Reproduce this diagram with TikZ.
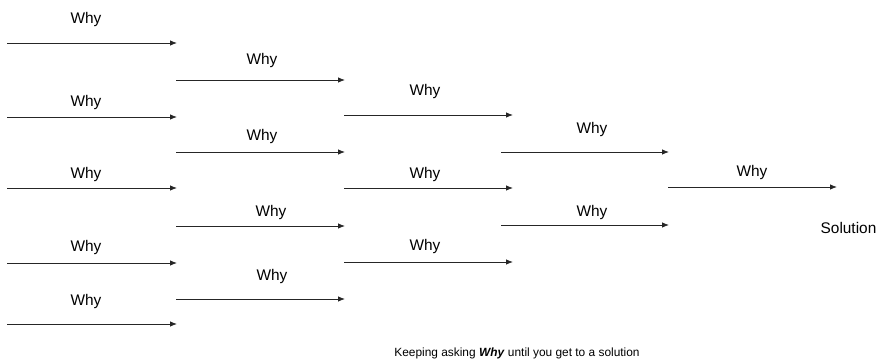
\documentclass[tikz,border=0pt]{standalone}
\usepackage{fontspec}
\setmainfont{Liberation Sans}
\usetikzlibrary{arrows.meta}
\begin{document}
\begin{tikzpicture}[x=1pt,y=-1pt,
  whyarrow/.style={draw=black!85,line width=0.85pt,-{Latex[length=7pt,width=5.5pt]}},
  whylabel/.style={font=\fontsize{15.4}{17}\selectfont,inner sep=0pt,anchor=base},
  plaintext/.style={font=\fontsize{15.4}{17}\selectfont,inner sep=0pt,anchor=base},
  notetext/.style={font=\fontsize{11.9}{14}\selectfont,inner sep=0pt,anchor=base}]
\useasboundingbox[fill=white] (0,0) rectangle (881,359);
% column 1
\coordinate (a1s) at (7,43);   \coordinate (a1e) at (177,43);
\coordinate (a2s) at (7,117);  \coordinate (a2e) at (177,117);
\coordinate (a3s) at (7,188);  \coordinate (a3e) at (177,188);
\coordinate (a4s) at (7,263);  \coordinate (a4e) at (177,263);
\coordinate (a5s) at (7,324);  \coordinate (a5e) at (177,324);
% column 2
\coordinate (b1s) at (176,80);  \coordinate (b1e) at (345,80);
\coordinate (b2s) at (176,152); \coordinate (b2e) at (345,152);
\coordinate (b3s) at (176,226); \coordinate (b3e) at (345,226);
\coordinate (b4s) at (176,299); \coordinate (b4e) at (345,299);
% column 3
\coordinate (c1s) at (344,115); \coordinate (c1e) at (513,115);
\coordinate (c2s) at (344,188); \coordinate (c2e) at (513,188);
\coordinate (c3s) at (344,262); \coordinate (c3e) at (513,262);
% column 4
\coordinate (d1s) at (501,152); \coordinate (d1e) at (669,152);
\coordinate (d2s) at (501,225); \coordinate (d2e) at (669,225);
% column 5
\coordinate (e1s) at (668,187); \coordinate (e1e) at (837,187);

\foreach \n in {a1,a2,a3,a4,a5,b1,b2,b3,b4,c1,c2,c3,d1,d2,e1}
  \draw[whyarrow] (\n s) -- (\n e);

% labels (placed by baseline)
\node[whylabel] (la1) at (86,23.5)  {Why};
\node[whylabel] (la2) at (86,106.5) {Why};
\node[whylabel] (la3) at (86,178.5) {Why};
\node[whylabel] (la4) at (86,251.5) {Why};
\node[whylabel] (la5) at (86,305.5) {Why};
\node[whylabel] (lb1) at (262,64)   {Why};
\node[whylabel] (lb2) at (262,140.5) {Why};
\node[whylabel] (lb3) at (271,216.5) {Why};
\node[whylabel] (lb4) at (272,280.5) {Why};
\node[whylabel] (lc1) at (425,95.5)  {Why};
\node[whylabel] (lc2) at (425,178.5) {Why};
\node[whylabel] (lc3) at (425,250.5) {Why};
\node[whylabel] (ld1) at (592,133.5) {Why};
\node[whylabel] (ld2) at (592,216.5) {Why};
\node[whylabel] (le1) at (752,176.5) {Why};

\node[plaintext] (sol) at (848.5,233.3) {Solution};
\node[notetext] (note) at (517,356.5) {Keeping asking \textbf{\textit{Why}} until you get to a solution};
\end{tikzpicture}
\end{document}
